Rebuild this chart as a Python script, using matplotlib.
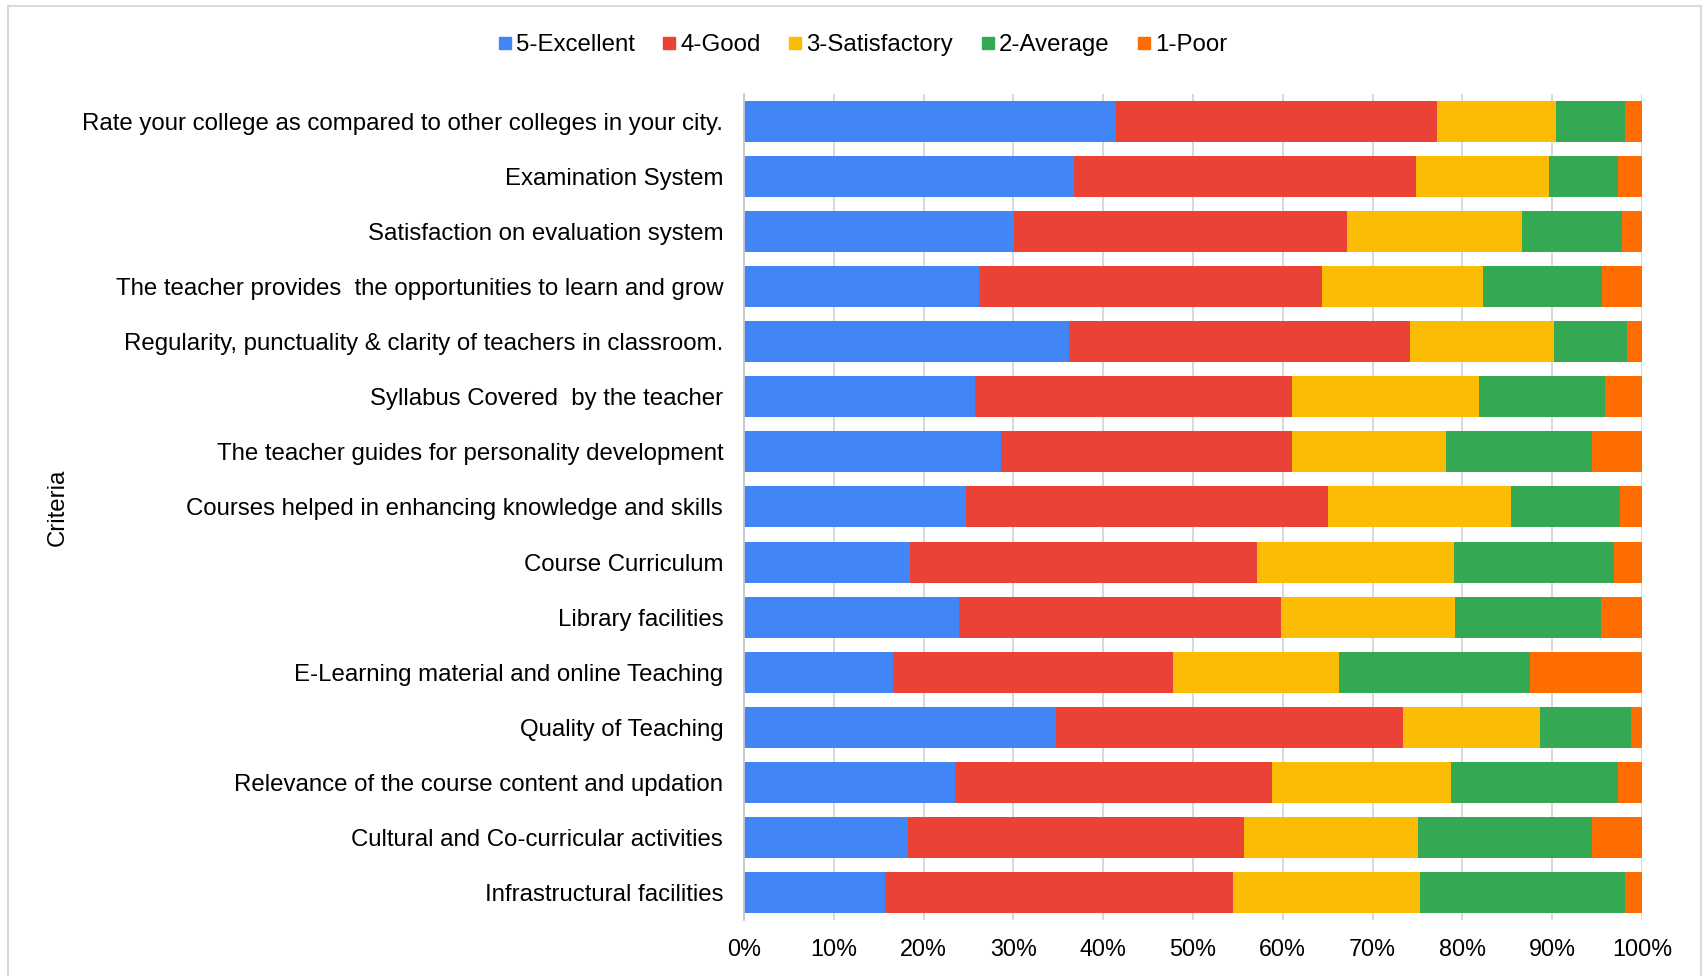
import matplotlib.pyplot as plt
from matplotlib.lines import Line2D
from matplotlib.patches import Rectangle
from matplotlib.ticker import PercentFormatter

plt.rcParams['font.family'] = ['Liberation Sans', 'DejaVu Sans']

# Survey criteria (top to bottom as shown)
criteria = [
    "Rate your college as compared to other colleges in your city.",
    "Examination System",
    "Satisfaction on evaluation system",
    "The teacher provides  the opportunities to learn and grow",
    "Regularity, punctuality & clarity of teachers in classroom.",
    "Syllabus Covered  by the teacher",
    "The teacher guides for personality development",
    "Courses helped in enhancing knowledge and skills",
    "Course Curriculum",
    "Library facilities",
    "E-Learning material and online Teaching",
    "Quality of Teaching",
    "Relevance of the course content and updation",
    "Cultural and Co-curricular activities",
    "Infrastructural facilities",
]

# Share of responses (%) per rating
excellent = [41.4, 36.8, 30.1, 26.2, 36.2, 25.7, 28.6, 24.7, 18.5, 24.0, 16.6, 34.7, 23.5, 18.3, 15.7]
good = [35.8, 38.0, 37.1, 38.2, 38.0, 35.3, 32.4, 40.3, 38.6, 35.8, 31.2, 38.7, 35.3, 37.4, 38.8]
satisfactory = [13.2, 14.9, 19.4, 17.9, 16.0, 20.8, 17.2, 20.4, 22.0, 19.4, 18.5, 15.3, 19.9, 19.4, 20.8]
average = [7.7, 7.6, 11.2, 13.3, 8.1, 14.1, 16.2, 12.1, 17.8, 16.2, 21.2, 10.1, 18.6, 19.3, 22.8]
poor = [1.9, 2.7, 2.2, 4.4, 1.7, 4.1, 5.6, 2.5, 3.1, 4.6, 12.5, 1.2, 2.7, 5.6, 1.9]

series = [excellent, good, satisfactory, average, poor]
names = ["5-Excellent", "4-Good", "3-Satisfactory", "2-Average", "1-Poor"]
colors = ["#4285F4", "#EA4335", "#FBBC04", "#34A853", "#FF6D01"]

fig = plt.figure(figsize=(17.04, 9.76), dpi=100)
ax = fig.add_axes([0.4366, 0.0574, 0.5270, 0.8463])

# light frame round the chart
fig.patches.append(Rectangle((8 / 1704, -0.01), (1701 - 8) / 1704, 1 - 6 / 976 + 0.01,
                             transform=fig.transFigure, fill=False,
                             edgecolor="#d9d9d9", linewidth=1.5))

ypos = list(range(len(criteria)))
left = [0.0] * len(criteria)
for vals, name, col in zip(series, names, colors):
    ax.barh(ypos, vals, left=left, height=0.745, color=col, label=name,
            linewidth=0, zorder=2)
    left = [a + b for a, b in zip(left, vals)]

ax.set_xlim(0, 100)
ax.set_ylim(len(criteria) - 0.5, -0.5)
ax.set_xticks(range(0, 101, 10))
ax.xaxis.set_major_formatter(PercentFormatter(decimals=0))
ax.set_yticks(ypos)
ax.set_yticklabels(criteria)

ax.tick_params(axis="both", length=0, labelcolor="#000000")
ax.tick_params(axis="y", pad=15, labelsize=17.3)
ax.tick_params(axis="x", pad=13, labelsize=16.8)

ax.grid(axis="x", color="#d6d6d6", linewidth=1.3, zorder=0)
for s in ["top", "right", "bottom"]:
    ax.spines[s].set_visible(False)
ax.spines["left"].set_color("#c8c8c8")
ax.spines["left"].set_linewidth(1.3)

fig.text(58 / 1704, 0.5 * (0.0574 + 0.9037), "Criteria", rotation=90,
         ha="center", va="center", fontsize=17.3)

handles = [Line2D([0], [0], marker="s", linestyle="", markersize=9.3,
                  markerfacecolor=c, markeredgecolor=c) for c in colors]
fig.legend(handles, names, loc="center", bbox_to_anchor=(0.505, 1 - 45 / 976),
           ncol=5, frameon=False, fontsize=17.3, handletextpad=0.0,
           columnspacing=1.0, handlelength=0.9)

fig.savefig("out.png", dpi=100, facecolor="white")
